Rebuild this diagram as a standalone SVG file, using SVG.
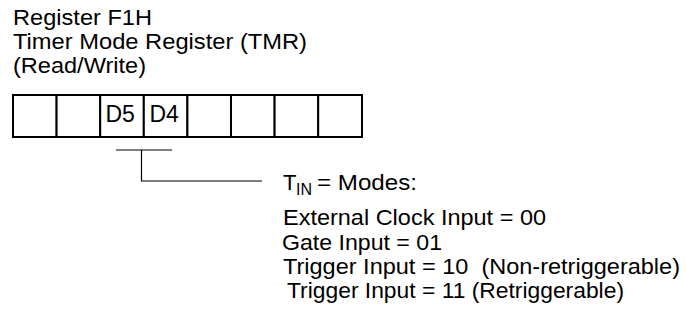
<svg xmlns="http://www.w3.org/2000/svg" width="686" height="322" viewBox="0 0 686 322">
<style>
.t{font-family:"Liberation Sans",Arial,sans-serif;font-size:22px;fill:#000}
.d{font-family:"Liberation Sans",Arial,sans-serif;font-size:23px;fill:#000}
.s{font-family:"Liberation Sans",Arial,sans-serif;font-size:16px;fill:#000}
.cell{fill:#fff;stroke:#000;stroke-width:2}
.conn{fill:none;stroke:#000;stroke-width:1.2}
</style>
<rect width="686" height="322" fill="#fff"/>
<g id="title">
<text class="t" x="13" y="25" textLength="139" lengthAdjust="spacingAndGlyphs">Register F1H</text>
<text class="t" x="13" y="49" textLength="294" lengthAdjust="spacingAndGlyphs">Timer Mode Register (TMR)</text>
<text class="t" x="13" y="73" textLength="133" lengthAdjust="spacingAndGlyphs">(Read/Write)</text>
</g>
<g id="register">
<g id="bit7"><rect class="cell" x="13" y="95" width="43.6" height="42"/></g>
<g id="bit6"><rect class="cell" x="56.6" y="95" width="43.6" height="42"/></g>
<g id="bit5"><rect class="cell" x="100.2" y="95" width="43.6" height="42"/><text class="d" x="105.5" y="122">D5</text></g>
<g id="bit4"><rect class="cell" x="143.8" y="95" width="43.6" height="42"/><text class="d" x="149.5" y="122">D4</text></g>
<g id="bit3"><rect class="cell" x="187.4" y="95" width="43.6" height="42"/></g>
<g id="bit2"><rect class="cell" x="231" y="95" width="43.6" height="42"/></g>
<g id="bit1"><rect class="cell" x="274.6" y="95" width="43.6" height="42"/></g>
<g id="bit0"><rect class="cell" x="318.2" y="95" width="43.8" height="42"/></g>
</g>
<g id="connectors">
<path class="conn" d="M116 150 H172 M141.5 150 V181 H262"/>
</g>
<g id="modes">
<text class="t" x="283" y="190">T</text>
<text class="s" x="296" y="195">IN</text>
<text class="t" x="317" y="190" textLength="100" lengthAdjust="spacingAndGlyphs">= Modes:</text>
<text class="t" x="283" y="225" textLength="263" lengthAdjust="spacingAndGlyphs">External Clock Input = 00</text>
<text class="t" x="282" y="250" textLength="160" lengthAdjust="spacingAndGlyphs">Gate Input = 01</text>
<text class="t" x="283" y="274" textLength="397" lengthAdjust="spacingAndGlyphs" xml:space="preserve">Trigger Input = 10  (Non-retriggerable)</text>
<text class="t" x="287" y="298" textLength="337" lengthAdjust="spacingAndGlyphs">Trigger Input = 11 (Retriggerable)</text>
</g>
</svg>
